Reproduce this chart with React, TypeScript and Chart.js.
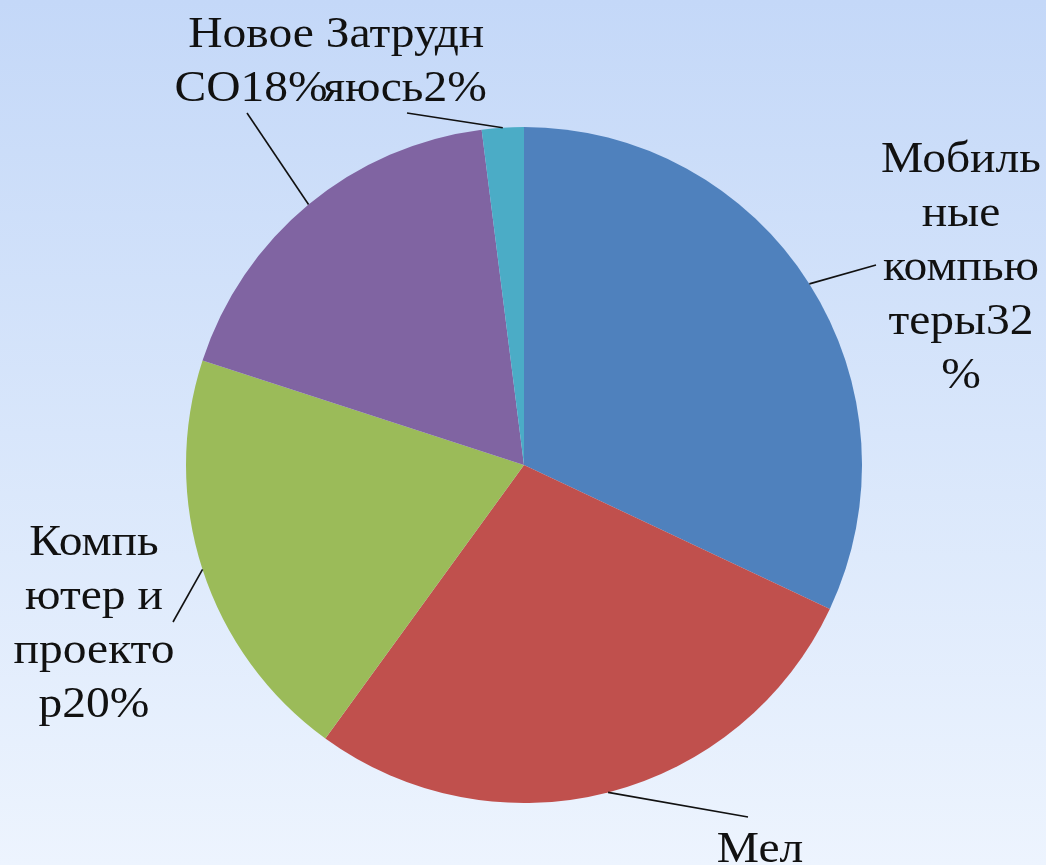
import React, { useEffect, useRef } from "react";
import { Chart, registerables } from "chart.js";

Chart.register(...registerables);

// Data
const categories = ["Мобильные компьютеры", "Мел", "Компьютер и проектор", "Новое СО", "Затрудняюсь"];
const values = [32, 28, 20, 18, 2];
const colors = ["#4f81bd", "#c0504d", "#9bbb59", "#8064a2", "#4bacc6"];

// Label wrapping as in the reference (text lines per slice)
const labelLines = [
  ["Мобиль", "ные", "компью", "теры32", "%"],
  ["Мел", "28%"],
  ["Компь", "ютер и", "проекто", "р20%"],
  ["Новое", "СО18%"],
  ["Затрудн", "яюсь2%"],
];

// Layout of labels: text centre x / first baseline y, and leader-line end point (page px)
const labelLayout = [
  { x: 961, y: 172, lx: 876, ly: 265 },
  { x: 760, y: 862, lx: 748, ly: 817 },
  { x: 94, y: 555, lx: 173, ly: 622 },
  { x: 251, y: 47, lx: 247, ly: 113 },
  { x: 405, y: 47, lx: 407, ly: 113 },
];

const labelPlugin = {
  id: "pieLabels",
  afterDatasetsDraw(chart: any) {
    const ctx = chart.ctx;
    const meta = chart.getDatasetMeta(0);
    ctx.save();
    meta.data.forEach((arc: any, i: number) => {
      const p = arc.getProps(["x", "y", "startAngle", "endAngle", "outerRadius"], true);
      const mid = (p.startAngle + p.endAngle) / 2;
      const ex = p.x + Math.cos(mid) * p.outerRadius;
      const ey = p.y + Math.sin(mid) * p.outerRadius;
      const L = labelLayout[i];
      ctx.strokeStyle = "#111";
      ctx.lineWidth = 1.6;
      ctx.beginPath();
      ctx.moveTo(ex, ey);
      ctx.lineTo(L.lx, L.ly);
      ctx.stroke();
      ctx.fillStyle = "#111";
      ctx.font = '44px "Liberation Serif", "Times New Roman", serif';
      ctx.textAlign = "center";
      ctx.textBaseline = "alphabetic";
      labelLines[i].forEach((t, j) => {
        ctx.save();
        ctx.translate(L.x, L.y + j * 54);
        ctx.scale(1.08, 1);
        ctx.fillText(t, 0, 0);
        ctx.restore();
      });
    });
    ctx.restore();
  },
};

export default function App() {
  const ref = useRef<HTMLCanvasElement>(null);
  useEffect(() => {
    document.body.style.margin = "0";
    const chart = new Chart(ref.current!, {
      type: "pie",
      data: {
        labels: categories,
        datasets: [
          {
            data: values,
            backgroundColor: colors,
            borderWidth: 0,
          },
        ],
      },
      options: {
        animation: false,
        responsive: false,
        layout: { padding: { top: 127, bottom: 62, left: 2, right: 0 } },
        plugins: {
          legend: { display: false },
          tooltip: { enabled: false },
          title: { display: false },
        },
      },
      plugins: [labelPlugin],
    });
    return () => chart.destroy();
  }, []);
  return (
    <div
      style={{
        width: 1046,
        height: 865,
        background: "linear-gradient(to bottom, #c4d8f8 0%, #d8e6fb 50%, #edf4fe 100%)",
        overflow: "hidden",
      }}
    >
      <canvas ref={ref} width={1046} height={865} style={{ display: "block" }} />
    </div>
  );
}
